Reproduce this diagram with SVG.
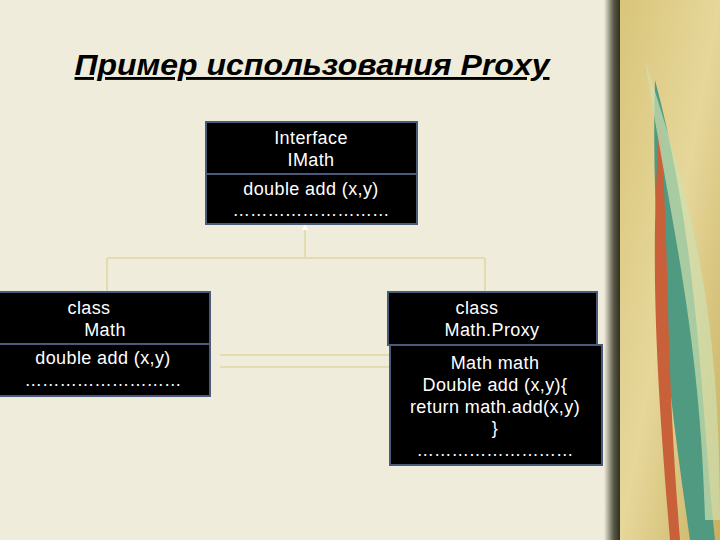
<svg xmlns="http://www.w3.org/2000/svg" width="720" height="540" viewBox="0 0 720 540">
<defs>
<linearGradient id="deco" x1="0" y1="0" x2="1" y2="1">
<stop offset="0" stop-color="#d9c57a"/><stop offset="0.5" stop-color="#e6d79a"/><stop offset="1" stop-color="#c9b060"/>
</linearGradient>
<linearGradient id="edge" x1="0" y1="0" x2="1" y2="0">
<stop offset="0" stop-color="#f0ecdc"/><stop offset="0.6" stop-color="#5a5a48"/><stop offset="1" stop-color="#2e2e22"/>
</linearGradient>
<style>
.box{fill:#000;stroke:#4a5a7a;stroke-width:2}
.t{font-family:"Liberation Sans",Arial,sans-serif;font-size:18px;letter-spacing:0.4px;fill:#fff;text-anchor:middle}
.d{letter-spacing:0}
.c{fill:none;stroke:#e2dcae;stroke-width:2}
</style>
</defs>
<rect width="720" height="540" fill="#efecdb"/>
<rect x="604" y="0" width="16" height="540" fill="url(#edge)"/>
<rect x="620" y="0" width="100" height="540" fill="url(#deco)"/>
<path d="M655 80 C700 250 700 400 715 540 L690 540 C670 400 650 250 655 80Z" fill="#4f9a80"/>
<path d="M660 120 C670 260 665 350 680 540 L670 540 C655 360 650 250 660 120Z" fill="#c8603a"/>
<path d="M645 60 C690 200 720 300 720 520 L705 520 C700 330 670 220 645 60Z" fill="#cfe0b0" opacity="0.7"/>
<text x="312" y="75" font-family="Liberation Sans,Arial,sans-serif" font-size="29" font-weight="bold" font-style="italic" text-decoration="underline" text-anchor="middle" fill="#000" textLength="475" lengthAdjust="spacingAndGlyphs">Пример использования Proxy</text>
<g id="connectors">
<path class="c" d="M305 226 V258 M107 258 H485 M107 258 V292 M485 258 V292"/>
<path d="M302 230 L305 224 L308 230Z" fill="#fff"/>
<path class="c" d="M220 355 H390 M220 367 H390"/>
</g>
<g id="imath">
<rect class="box" x="206" y="122" width="211" height="102"/>
<line x1="206" y1="174" x2="417" y2="174" stroke="#4a5a7a" stroke-width="2"/>
<text class="t" x="311" y="144">Interface</text>
<text class="t" x="311" y="166">IMath</text>
<text class="t" x="311" y="195">double add (x,y)</text>
<text class="t d" x="311" y="216" textLength="157" lengthAdjust="spacingAndGlyphs">………………………</text>
</g>
<g id="math">
<rect class="box" x="-1" y="292" width="211" height="104"/>
<line x1="0" y1="344" x2="210" y2="344" stroke="#4a5a7a" stroke-width="2"/>
<text class="t" x="89" y="314">class</text>
<text class="t" x="105" y="336">Math</text>
<text class="t" x="103" y="364">double add (x,y)</text>
<text class="t d" x="103" y="386" textLength="157" lengthAdjust="spacingAndGlyphs">………………………</text>
</g>
<g id="mathproxy">
<rect class="box" x="388" y="292" width="209" height="53"/>
<rect class="box" x="390" y="345" width="212" height="120"/>
<text class="t" x="477" y="314">class</text>
<text class="t" x="492" y="336">Math.Proxy</text>
<text class="t" x="495" y="369">Math math</text>
<text class="t" x="495" y="391">Double add (x,y){</text>
<text class="t" x="495" y="413">return math.add(x,y)</text>
<text class="t" x="495" y="434">}</text>
<text class="t d" x="495" y="456" textLength="157" lengthAdjust="spacingAndGlyphs">………………………</text>
</g>
</svg>
